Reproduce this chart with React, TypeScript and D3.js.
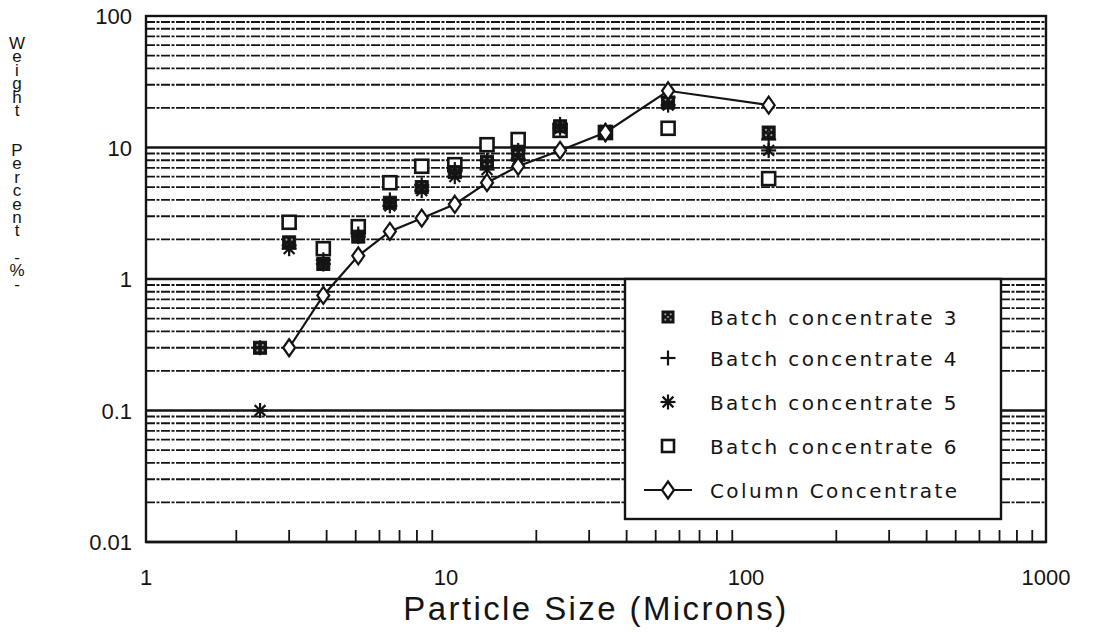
import React from "react";
import * as d3 from "d3";

const sizes = [2.4, 3.0, 3.9, 5.1, 6.5, 8.3, 10.7, 13.7, 17.4, 24, 34, 55, 119];
const batch3 = [0.3, 1.9, 1.3, 2.1, 3.8, 5.0, 6.5, 7.8, 8.8, 14.5, 13.0, 22, 13];
const batch4 = [0.3, 1.8, 1.4, 2.2, 4.0, 5.2, 6.8, 8.0, 9.5, 15, 12.5, 24, 11.5];
const batch5 = [0.1, 1.7, 1.3, 2.1, 3.6, 4.7, 6.0, 6.8, 8.2, 14, 13.5, 21, 9.5];
const batch6 = [null, 2.7, 1.7, 2.5, 5.4, 7.2, 7.4, 10.5, 11.5, 13.5, 13, 14, 5.8];
const columnSizes = [3.0, 3.9, 5.1, 6.5, 8.3, 10.7, 13.7, 17.4, 24, 34, 55, 119];
const columnValues = [0.3, 0.75, 1.5, 2.3, 2.9, 3.7, 5.4, 7.2, 9.5, 13, 27, 21];

const xTicks = [1, 10, 100, 1000];
const yTicks = [100, 10, 1, 0.1, 0.01];
const yTickLabels = ["100", "10", "1", "0.1", "0.01"];
const legendLabels = [
  "Batch concentrate 3",
  "Batch concentrate 4",
  "Batch concentrate 5",
  "Batch concentrate 6",
  "Column Concentrate",
];
const yTitleWords = ["Weight", "Percent", "-%-"];

const W = 1093;
const H = 635;
const L = 146, R = 1046, T = 16, B = 542;
const FONT = "'Liberation Sans', Arial, sans-serif";
const INK = "#141414";

function FilledSq({ x, y, s = 13 }: { x: number; y: number; s?: number }) {
  return (
    <g>
      <rect x={x - s / 2} y={y - s / 2} width={s} height={s} fill={INK} stroke={INK} strokeWidth={1} />
      <circle cx={x - 2.7} cy={y - 2.7} r={1.1} fill="#9a9a9a" />
      <circle cx={x + 2.7} cy={y - 2.7} r={1.1} fill="#9a9a9a" />
      <circle cx={x - 2.7} cy={y + 2.7} r={1.1} fill="#9a9a9a" />
      <circle cx={x + 2.7} cy={y + 2.7} r={1.1} fill="#9a9a9a" />
      <circle cx={x} cy={y} r={1.1} fill="#9a9a9a" />
    </g>
  );
}
function Plus({ x, y, r = 7.5 }: { x: number; y: number; r?: number }) {
  return (
    <g stroke={INK} strokeWidth={2.2}>
      <line x1={x - r} x2={x + r} y1={y} y2={y} />
      <line x1={x} x2={x} y1={y - r} y2={y + r} />
    </g>
  );
}
function Star({ x, y, r = 7.5 }: { x: number; y: number; r?: number }) {
  const a = r * 0.72;
  return (
    <g stroke={INK} strokeWidth={2.2}>
      <line x1={x - r} x2={x + r} y1={y} y2={y} />
      <line x1={x} x2={x} y1={y - r} y2={y + r} />
      <line x1={x - a} x2={x + a} y1={y - a} y2={y + a} />
      <line x1={x - a} x2={x + a} y1={y + a} y2={y - a} />
    </g>
  );
}
function OpenSq({ x, y, s = 13 }: { x: number; y: number; s?: number }) {
  return <rect x={x - s / 2} y={y - s / 2} width={s} height={s} fill="#fff" stroke={INK} strokeWidth={2.6} />;
}
function Diamond({ x, y }: { x: number; y: number }) {
  return (
    <path d={`M${x},${y - 8.5} L${x + 6},${y} L${x},${y + 8.5} L${x - 6},${y} Z`} fill="#fff" stroke={INK} strokeWidth={2.2} />
  );
}

export default function App() {
  const x = d3.scaleLog().domain([1, 1000]).range([L, R]);
  const y = d3.scaleLog().domain([0.01, 100]).range([B, T]);

  const gridVals: { v: number; major: boolean }[] = [];
  [0.01, 0.1, 1, 10].forEach((d) => {
    for (let m = 1; m <= 9; m++) gridVals.push({ v: m * d, major: m === 1 });
  });
  const xMinor: number[] = [];
  [1, 10, 100].forEach((d) => {
    for (let m = 2; m <= 9; m++) xMinor.push(m * d);
  });

  const line = d3
    .line<number>()
    .x((_, i) => x(columnSizes[i]))
    .y((v) => y(v));

  const rowY = [317, 358, 402, 446, 490];
  const titleStarts = [43, 150, 257];
  const titleStep = 13.4;
  const titleLetters: { c: string; y: number }[] = [];
  yTitleWords.forEach((w, wi) =>
    w.split("").forEach((c, ci) => titleLetters.push({ c, y: titleStarts[wi] + ci * titleStep + 6 }))
  );

  return (
    <svg width={W} height={H} style={{ position: "absolute", left: 0, top: 0, background: "#fff" }} fontFamily={FONT}>
      {/* gridlines */}
      {gridVals.map((g, i) => (
        <line
          key={i}
          x1={L}
          x2={R}
          y1={y(g.v)}
          y2={y(g.v)}
          stroke={INK}
          strokeWidth={g.major ? 2.4 : 1.8}
          strokeDasharray={g.major ? undefined : "9 1.5 3 1.5"}
        />
      ))}
      {/* x minor ticks */}
      {xMinor.map((v, i) => (
        <line key={i} x1={x(v)} x2={x(v)} y1={B} y2={B - 12} stroke={INK} strokeWidth={1.8} />
      ))}
      {/* frame */}
      <rect x={L} y={T} width={R - L} height={B - T} fill="none" stroke={INK} strokeWidth={2.4} />

      {/* y tick labels */}
      {yTicks.map((v, i) => (
        <text key={i} x={132} y={y(v) + 8} textAnchor="end" fontSize={22} fill={INK}>
          {yTickLabels[i]}
        </text>
      ))}
      {/* x tick labels */}
      {xTicks.map((v, i) => (
        <text key={i} x={x(v)} y={585} textAnchor="middle" fontSize={22} fill={INK}>
          {String(v)}
        </text>
      ))}
      <text x={(L + R) / 2} y={620} textAnchor="middle" fontSize={33} letterSpacing={2.4} fill={INK}>
        Particle Size (Microns)
      </text>
      {/* y title: stacked letters */}
      {titleLetters.map((t, i) => (
        <text key={i} x={17} y={t.y} textAnchor="middle" fontSize={17} fill={INK}>
          {t.c}
        </text>
      ))}

      {/* series */}
      {sizes.map((s, i) =>
        batch6[i] == null ? null : <OpenSq key={"b6" + i} x={x(s)} y={y(batch6[i] as number)} />
      )}
      {sizes.map((s, i) => (
        <FilledSq key={"b3" + i} x={x(s)} y={y(batch3[i])} />
      ))}
      {sizes.map((s, i) => (
        <Plus key={"b4" + i} x={x(s)} y={y(batch4[i])} />
      ))}
      {sizes.map((s, i) => (
        <Star key={"b5" + i} x={x(s)} y={y(batch5[i])} />
      ))}
      <path d={line(columnValues) || ""} fill="none" stroke={INK} strokeWidth={2.2} />
      {columnSizes.map((s, i) => (
        <Diamond key={"c" + i} x={x(s)} y={y(columnValues[i])} />
      ))}

      {/* legend */}
      <rect x={625} y={279} width={376} height={240} fill="#fff" stroke={INK} strokeWidth={2.4} />
      <FilledSq x={668} y={rowY[0]} s={12} />
      <Plus x={668} y={rowY[1]} />
      <Star x={668} y={rowY[2]} />
      <OpenSq x={668} y={rowY[3]} s={12} />
      <line x1={644} x2={692} y1={rowY[4]} y2={rowY[4]} stroke={INK} strokeWidth={2.2} />
      <Diamond x={668} y={rowY[4]} />
      {legendLabels.map((t, i) => (
        <text
          key={i}
          x={710}
          y={rowY[i] + 8}
          fontSize={20}
          fontFamily="'DejaVu Sans', sans-serif"
          letterSpacing={2.4}
          fill={INK}
        >
          {t}
        </text>
      ))}
    </svg>
  );
}
